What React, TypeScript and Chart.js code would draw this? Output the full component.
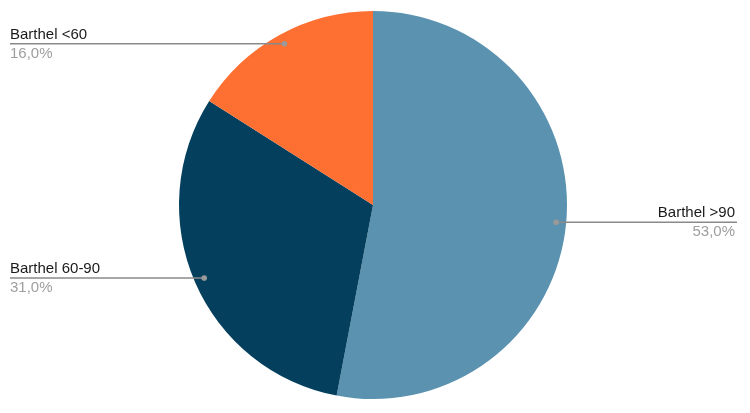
import React, { useEffect, useRef } from "react";
import { Chart, registerables } from "chart.js";

Chart.register(...registerables);

const categories = ["Barthel >90", "Barthel 60-90", "Barthel <60"];
const values = [53.0, 31.0, 16.0];
const percentLabels = ["53,0%", "31,0%", "16,0%"];
const colors = ["#5B92B0", "#04405E", "#FE6F32"];

const leaderPlugin = {
  id: "leaderLabels",
  afterDatasetsDraw(chart: any) {
    const ctx = chart.ctx;
    const meta = chart.getDatasetMeta(0);
    const leftX = 10;
    const rightX = 737;
    meta.data.forEach((arc: any, i: number) => {
      const { x, y, startAngle, endAngle, outerRadius } = arc.getProps(
        ["x", "y", "startAngle", "endAngle", "outerRadius"],
        true
      );
      const mid = (startAngle + endAngle) / 2;
      const d = outerRadius * 0.948;
      const px = x + Math.cos(mid) * d;
      const py = y + Math.sin(mid) * d;
      const right = Math.cos(mid) > 0;
      const endX = right ? rightX : leftX;
      ctx.save();
      ctx.strokeStyle = "#8a8a8a";
      ctx.lineWidth = 1.5;
      ctx.beginPath();
      ctx.moveTo(px, py);
      ctx.lineTo(endX, py);
      ctx.stroke();
      ctx.fillStyle = "#9a9a9a";
      ctx.beginPath();
      ctx.arc(px, py, 2.8, 0, Math.PI * 2);
      ctx.fill();
      ctx.font = '15px "Liberation Sans", Arial, sans-serif';
      ctx.textAlign = right ? "right" : "left";
      ctx.textBaseline = "alphabetic";
      const tx = right ? rightX - 2 : leftX;
      ctx.fillStyle = "#1a1a1a";
      ctx.fillText(categories[i], tx, py - 5);
      ctx.fillStyle = "#9e9e9e";
      ctx.fillText(percentLabels[i], tx, py + 14);
      ctx.restore();
    });
  },
};

export default function App() {
  const canvasRef = useRef<HTMLCanvasElement | null>(null);
  useEffect(() => {
    if (!canvasRef.current) return;
    const chart = new Chart(canvasRef.current, {
      type: "pie",
      data: {
        labels: categories,
        datasets: [
          {
            data: values,
            backgroundColor: colors,
            borderWidth: 0,
          },
        ],
      },
      options: {
        animation: false,
        responsive: true,
        maintainAspectRatio: false,
        layout: { padding: { top: 11, bottom: 14, left: 0, right: 4 } },
        plugins: {
          legend: { display: false },
          tooltip: { enabled: false },
        },
      },
      plugins: [leaderPlugin],
    });
    return () => chart.destroy();
  }, []);
  return (
    <div
      style={{
        position: "absolute",
        left: 0,
        top: 0,
        width: 750,
        height: 413,
        background: "#ffffff",
      }}
    >
      <canvas ref={canvasRef} />
    </div>
  );
}
